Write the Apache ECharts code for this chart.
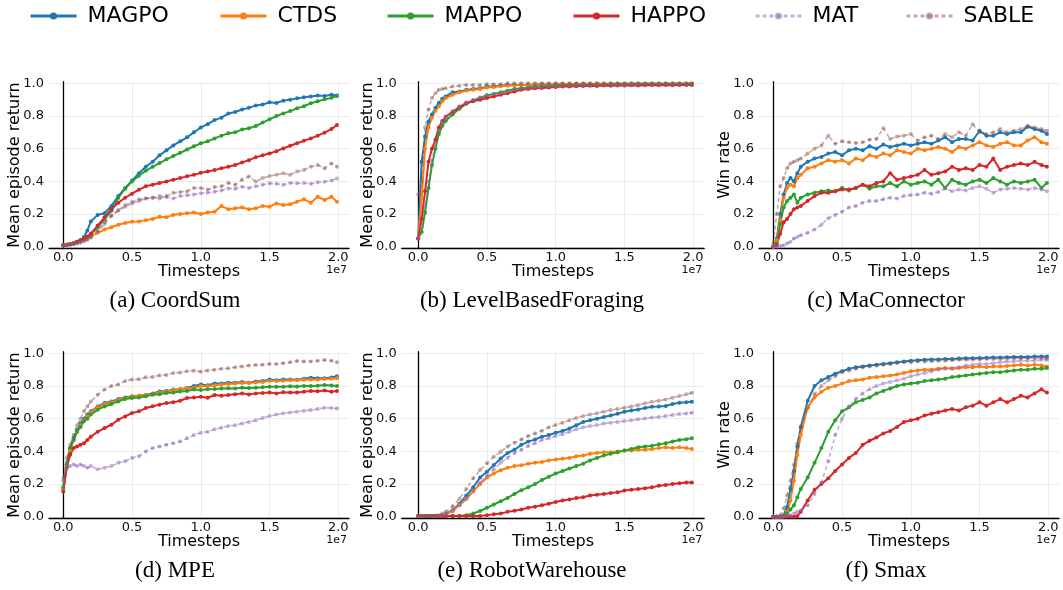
<!DOCTYPE html>
<html>
<head>
<meta charset="utf-8">
<script src="https://cdn.jsdelivr.net/npm/echarts@6/dist/echarts.min.js"></script>
<style>
html,body{margin:0;padding:0;background:#fff;}
#chart{width:1063px;height:590px;}
</style>
</head>
<body>
<div id="chart"></div>
<script>
// ---- shared x values (timesteps, in units of 1e7) ----
const timesteps = [0,0.025,0.05,0.075,0.1,0.125,0.15,0.175,0.2,
  0.25,0.3,0.35,0.4,0.45,0.5,0.55,0.6,0.65,0.7,
  0.75,0.8,0.85,0.9,0.95,1.0,1.05,1.1,1.15,1.2,
  1.25,1.3,1.35,1.4,1.45,1.5,1.55,1.6,1.65,1.7,
  1.75,1.8,1.85,1.9,1.95,1.99];
const xTicks = [0, 0.5, 1.0, 1.5, 2.0];
const yTicks = [0, 0.2, 0.4, 0.6, 0.8, 1.0];
const methods = ['MAGPO','CTDS','MAPPO','HAPPO','MAT','SABLE'];
const panelTitles = ['(a) CoordSum','(b) LevelBasedForaging','(c) MaConnector','(d) MPE','(e) RobotWarehouse','(f) Smax'];
const panelYLabels = ['Mean episode return','Mean episode return','Win rate','Mean episode return','Mean episode return','Win rate'];

// ---- (a) CoordSum ----
const coordsum_MAGPO = [0.01,0.012,0.015,0.02,0.03,0.04,0.06,0.1,0.155, 0.195,0.205,0.25,0.31,0.36,0.405,0.45,0.49,0.52,0.56, 0.59,0.62,0.645,0.67,0.70,0.73,0.75,0.775,0.79,0.815, 0.825,0.84,0.85,0.865,0.87,0.884,0.88,0.894,0.9,0.908, 0.915,0.92,0.925,0.922,0.93, 0.925];
const coordsum_CTDS = [0.01,0.012,0.015,0.02,0.027,0.035,0.045,0.055,0.065, 0.085,0.105,0.12,0.135,0.145,0.153,0.155,0.163,0.17,0.184, 0.18,0.195,0.20,0.205,0.21,0.20,0.21,0.214,0.25,0.229, 0.235,0.24,0.23,0.235,0.25,0.245,0.265,0.255,0.26,0.276, 0.29,0.27,0.306,0.286,0.306, 0.276];
const coordsum_MAPPO = [0.01,0.013,0.017,0.022,0.03,0.038,0.048,0.06,0.075, 0.12,0.17,0.22,0.3,0.355,0.40,0.435,0.465,0.49,0.512, 0.535,0.555,0.575,0.595,0.615,0.633,0.645,0.663,0.68,0.694, 0.70,0.718,0.725,0.739,0.76,0.78,0.80,0.816,0.83,0.847, 0.86,0.878,0.89,0.902,0.912, 0.922];
const coordsum_HAPPO = [0.01,0.012,0.016,0.02,0.03,0.04,0.05,0.063,0.08, 0.13,0.18,0.23,0.27,0.30,0.325,0.349,0.37,0.38,0.39, 0.40,0.41,0.42,0.432,0.44,0.453,0.46,0.469,0.48,0.49, 0.50,0.516,0.53,0.547,0.56,0.571,0.585,0.602,0.618,0.633, 0.648,0.663,0.68,0.698,0.72, 0.745];
const coordsum_MAT = [0.01,0.011,0.013,0.016,0.02,0.025,0.032,0.042,0.055, 0.09,0.14,0.19,0.225,0.255,0.275,0.29,0.296,0.30,0.31, 0.305,0.296,0.31,0.315,0.32,0.327,0.33,0.337,0.345,0.357, 0.355,0.367,0.36,0.37,0.38,0.388,0.385,0.38,0.39,0.388, 0.39,0.385,0.395,0.398,0.405, 0.418];
const coordsum_SABLE = [0.01,0.011,0.014,0.018,0.023,0.03,0.038,0.048,0.06, 0.1,0.15,0.19,0.22,0.245,0.265,0.28,0.295,0.30,0.295, 0.31,0.33,0.335,0.34,0.36,0.36,0.35,0.365,0.37,0.39, 0.38,0.41,0.43,0.40,0.42,0.433,0.44,0.45,0.44,0.46, 0.47,0.49,0.50,0.48,0.51, 0.49];

// ---- (b) LevelBasedForaging ----
const lbf_MAGPO = [0.05,0.52,0.675,0.767,0.81,0.85,0.88,0.905,0.92, 0.945,0.95,0.96,0.965,0.97,0.98,0.98,0.985,0.99,0.99, 0.99,0.992,0.993,0.995,0.994,0.995,0.996,0.995,0.996,0.997, 0.996,0.997,0.996,0.997,0.998,0.997,0.997,0.998,0.997,0.998, 0.997,0.998,0.997,0.998,0.997, 0.998];
const lbf_CTDS = [0.05,0.3,0.6,0.73,0.79,0.83,0.86,0.89,0.91, 0.93,0.945,0.955,0.96,0.965,0.975,0.978,0.982,0.985,0.988, 0.99,0.99,0.992,0.993,0.994,0.995,0.995,0.996,0.995,0.996, 0.996,0.997,0.996,0.997,0.997,0.996,0.997,0.998,0.997,0.997, 0.998,0.997,0.998,0.997,0.998, 0.997];
const lbf_MAPPO = [0.05,0.09,0.21,0.36,0.5,0.6,0.69,0.74,0.77, 0.81,0.845,0.875,0.895,0.91,0.925,0.935,0.945,0.955,0.965, 0.97,0.975,0.98,0.982,0.985,0.988,0.988,0.99,0.99,0.99, 0.992,0.99,0.993,0.992,0.995,0.993,0.994,0.995,0.995,0.993, 0.995,0.996,0.995,0.996,0.995, 0.996];
const lbf_HAPPO = [0.05,0.17,0.34,0.52,0.6,0.655,0.73,0.77,0.795, 0.825,0.855,0.88,0.89,0.9,0.91,0.92,0.93,0.94,0.95, 0.96,0.965,0.97,0.972,0.975,0.978,0.98,0.98,0.982,0.983, 0.985,0.984,0.986,0.985,0.987,0.986,0.988,0.987,0.988,0.99, 0.988,0.99,0.989,0.99,0.99, 0.99];
const lbf_MAT = [0.05,0.12,0.25,0.4,0.53,0.63,0.71,0.76,0.79, 0.83,0.86,0.885,0.9,0.915,0.93,0.935,0.94,0.95,0.96, 0.965,0.97,0.975,0.978,0.98,0.982,0.985,0.985,0.986,0.988, 0.988,0.99,0.99,0.99,0.99,0.988,0.99,0.99,0.99,0.99, 0.99,0.99,0.99,0.99,0.99, 0.99];
const lbf_SABLE = [0.32,0.4,0.73,0.84,0.91,0.94,0.96,0.965,0.97, 0.98,0.985,0.99,0.99,0.99,0.995,0.995,0.995,1.0,1.0, 1.0,1.0,1.0,1.0,1.0,1.0,1.0,1.0,1.0,1.0, 1.0,1.0,1.0,1.0,1.0,1.0,1.0,1.0,1.0,1.0, 1.0,1.0,1.0,1.0,1.0, 1.0];

// ---- (c) MaConnector ----
const maconn_MAGPO = [0.0,0.05,0.2,0.32,0.39,0.42,0.40,0.45,0.49, 0.52,0.54,0.55,0.57,0.58,0.56,0.59,0.60,0.59,0.615, 0.6,0.625,0.61,0.62,0.63,0.62,0.63,0.64,0.63,0.65, 0.67,0.64,0.66,0.66,0.65,0.71,0.68,0.68,0.7,0.69, 0.7,0.70,0.735,0.72,0.71, 0.69];
const maconn_CTDS = [0.0,0.04,0.16,0.3,0.36,0.38,0.37,0.42,0.44, 0.48,0.49,0.51,0.53,0.52,0.53,0.51,0.54,0.53,0.56, 0.55,0.57,0.56,0.59,0.58,0.57,0.6,0.59,0.6,0.61, 0.6,0.58,0.61,0.6,0.62,0.64,0.62,0.61,0.63,0.64, 0.62,0.62,0.65,0.67,0.64, 0.63];
const maconn_MAPPO = [0.0,0.02,0.14,0.24,0.28,0.3,0.32,0.27,0.3, 0.32,0.33,0.34,0.345,0.34,0.36,0.345,0.36,0.38,0.355, 0.37,0.37,0.39,0.37,0.40,0.38,0.39,0.40,0.38,0.41, 0.36,0.41,0.39,0.38,0.40,0.41,0.39,0.42,0.40,0.38, 0.40,0.39,0.40,0.41,0.36, 0.39];
const maconn_HAPPO = [0.0,0.01,0.08,0.15,0.17,0.2,0.23,0.24,0.25, 0.28,0.31,0.33,0.33,0.34,0.35,0.35,0.36,0.38,0.37, 0.39,0.40,0.45,0.41,0.42,0.43,0.44,0.47,0.44,0.45, 0.46,0.49,0.47,0.48,0.47,0.50,0.49,0.54,0.47,0.49, 0.5,0.51,0.5,0.52,0.5, 0.49];
const maconn_MAT = [0.0,0.0,0.005,0.01,0.02,0.03,0.05,0.06,0.07, 0.085,0.105,0.135,0.175,0.195,0.215,0.24,0.25,0.27,0.28, 0.28,0.29,0.30,0.295,0.31,0.316,0.32,0.33,0.325,0.335, 0.357,0.34,0.35,0.345,0.36,0.37,0.355,0.33,0.35,0.355, 0.36,0.355,0.35,0.36,0.35, 0.34];
const maconn_SABLE = [0.02,0.2,0.37,0.42,0.48,0.51,0.52,0.53,0.54, 0.57,0.6,0.62,0.68,0.63,0.645,0.64,0.635,0.64,0.655, 0.66,0.725,0.66,0.675,0.68,0.69,0.65,0.67,0.68,0.66, 0.69,0.67,0.7,0.68,0.75,0.7,0.69,0.7,0.72,0.7, 0.71,0.72,0.74,0.73,0.72, 0.71];

// ---- (d) MPE ----
const mpe_MAGPO = [0.17,0.32,0.42,0.48,0.53,0.57,0.6,0.625,0.645, 0.675,0.696,0.706,0.72,0.73,0.737,0.74,0.745,0.755,0.767, 0.77,0.778,0.78,0.788,0.8,0.81,0.805,0.815,0.815,0.82, 0.82,0.825,0.82,0.827,0.83,0.84,0.835,0.84,0.84,0.838, 0.845,0.85,0.848,0.847,0.852, 0.86];
const mpe_CTDS = [0.17,0.31,0.41,0.47,0.52,0.56,0.59,0.615,0.64, 0.67,0.69,0.7,0.715,0.725,0.735,0.74,0.745,0.75,0.76, 0.765,0.775,0.78,0.785,0.79,0.80,0.80,0.805,0.81,0.812, 0.815,0.818,0.82,0.822,0.825,0.833,0.83,0.833,0.835,0.835, 0.838,0.84,0.84,0.843,0.845, 0.847];
const mpe_MAPPO = [0.18,0.32,0.42,0.47,0.52,0.55,0.585,0.6,0.625, 0.655,0.675,0.69,0.706,0.72,0.727,0.73,0.737,0.747,0.75, 0.757,0.76,0.767,0.77,0.778,0.776,0.78,0.782,0.785,0.786, 0.785,0.79,0.788,0.79,0.792,0.796,0.795,0.796,0.798,0.797, 0.8,0.8,0.802,0.806,0.803, 0.80];
const mpe_HAPPO = [0.155,0.3,0.38,0.42,0.43,0.44,0.45,0.47,0.49, 0.52,0.543,0.563,0.594,0.614,0.635,0.645,0.665,0.676,0.686, 0.696,0.70,0.71,0.727,0.73,0.735,0.728,0.745,0.74,0.745, 0.75,0.755,0.748,0.755,0.758,0.76,0.755,0.762,0.76,0.76, 0.765,0.77,0.768,0.772,0.765, 0.77];
const mpe_MAT = [0.22,0.3,0.31,0.32,0.31,0.32,0.31,0.30,0.31, 0.29,0.3,0.31,0.33,0.34,0.36,0.37,0.4,0.42,0.43, 0.44,0.45,0.46,0.48,0.5,0.514,0.52,0.535,0.545,0.555, 0.56,0.571,0.58,0.59,0.605,0.616,0.625,0.633,0.638,0.643, 0.648,0.653,0.66,0.667,0.665, 0.663];
const mpe_SABLE = [0.237,0.36,0.44,0.50,0.56,0.6,0.645,0.675,0.706, 0.747,0.778,0.8,0.81,0.83,0.84,0.842,0.853,0.855,0.865, 0.868,0.88,0.882,0.89,0.894,0.888,0.895,0.9,0.905,0.908, 0.915,0.92,0.925,0.929,0.93,0.935,0.935,0.94,0.945,0.953, 0.95,0.95,0.955,0.959,0.955, 0.945];

// ---- (e) RobotWarehouse ----
const rware_MAGPO = [0.005,0.005,0.005,0.005,0.005,0.005,0.005,0.008,0.016, 0.04,0.08,0.13,0.18,0.24,0.275,0.316,0.357,0.39,0.41, 0.44,0.46,0.473,0.49,0.5,0.514,0.525,0.54,0.56,0.58, 0.59,0.6,0.61,0.62,0.63,0.643,0.65,0.657,0.665,0.673, 0.675,0.678,0.69,0.698,0.70, 0.704];
const rware_CTDS = [0.005,0.005,0.005,0.005,0.005,0.005,0.005,0.008,0.015, 0.035,0.07,0.11,0.155,0.2,0.24,0.265,0.285,0.3,0.31, 0.315,0.325,0.33,0.335,0.345,0.35,0.355,0.36,0.37,0.375, 0.385,0.39,0.395,0.395,0.4,0.405,0.405,0.41,0.41,0.415, 0.42,0.425,0.42,0.425,0.42, 0.415];
const rware_MAPPO = [0.005,0.005,0.005,0.005,0.005,0.005,0.005,0.005,0.005, 0.005,0.005,0.01,0.02,0.035,0.055,0.075,0.095,0.115,0.14, 0.163,0.18,0.2,0.225,0.245,0.265,0.28,0.295,0.31,0.325, 0.345,0.36,0.375,0.385,0.395,0.405,0.415,0.425,0.43,0.435, 0.443,0.45,0.46,0.47,0.475, 0.48];
const rware_HAPPO = [0.005,0.005,0.005,0.005,0.005,0.005,0.005,0.005,0.005, 0.005,0.005,0.005,0.005,0.005,0.01,0.015,0.02,0.03,0.037, 0.045,0.055,0.062,0.07,0.08,0.09,0.1,0.105,0.115,0.12, 0.13,0.135,0.14,0.145,0.15,0.16,0.165,0.17,0.175,0.18, 0.19,0.195,0.2,0.205,0.21, 0.21];
const rware_MAT = [0.005,0.005,0.005,0.005,0.005,0.005,0.005,0.008,0.015, 0.035,0.07,0.11,0.16,0.21,0.25,0.29,0.33,0.36,0.39, 0.41,0.433,0.45,0.47,0.48,0.494,0.505,0.52,0.535,0.547, 0.555,0.561,0.57,0.576,0.58,0.586,0.59,0.596,0.602,0.608, 0.61,0.616,0.622,0.629,0.632, 0.637];
const rware_SABLE = [0.005,0.005,0.005,0.005,0.005,0.007,0.01,0.02,0.03, 0.065,0.11,0.17,0.235,0.286,0.327,0.367,0.398,0.43,0.453, 0.473,0.494,0.51,0.527,0.547,0.561,0.575,0.59,0.605,0.616, 0.625,0.633,0.643,0.653,0.66,0.667,0.675,0.684,0.694,0.704, 0.71,0.718,0.728,0.739,0.75, 0.759];

// ---- (f) Smax ----
const smax_MAGPO = [0,0,0,0.01,0.06,0.17,0.28,0.43,0.55, 0.71,0.80,0.835,0.855,0.875,0.89,0.905,0.915,0.92,0.925, 0.93,0.935,0.94,0.945,0.95,0.955,0.958,0.96,0.962,0.962, 0.965,0.965,0.968,0.97,0.97,0.972,0.973,0.975,0.975,0.976, 0.977,0.978,0.978,0.98,0.98, 0.98];
const smax_CTDS = [0,0,0,0.005,0.03,0.1,0.22,0.38,0.5, 0.67,0.73,0.765,0.79,0.8,0.815,0.83,0.835,0.84,0.85, 0.855,0.86,0.865,0.87,0.88,0.89,0.895,0.9,0.9,0.905, 0.91,0.905,0.91,0.915,0.915,0.92,0.915,0.92,0.92,0.922, 0.925,0.93,0.925,0.93,0.925, 0.92];
const smax_MAPPO = [0,0,0,0.005,0.02,0.045,0.07,0.12,0.17, 0.24,0.33,0.42,0.52,0.59,0.645,0.67,0.70,0.715,0.73, 0.755,0.77,0.785,0.80,0.81,0.815,0.82,0.83,0.835,0.84, 0.845,0.855,0.86,0.865,0.87,0.875,0.88,0.885,0.885,0.89, 0.895,0.9,0.9,0.905,0.905, 0.91];
const smax_HAPPO = [0,0,0,0,0,0,0,0.005,0.03, 0.1,0.165,0.2,0.235,0.28,0.32,0.36,0.39,0.44,0.465, 0.485,0.51,0.525,0.55,0.58,0.59,0.6,0.62,0.63,0.64, 0.65,0.66,0.65,0.67,0.68,0.70,0.68,0.70,0.72,0.70, 0.72,0.74,0.73,0.755,0.78, 0.76];
const smax_MAT = [0,0,0,0,0.005,0.01,0.02,0.03,0.04, 0.07,0.14,0.21,0.34,0.5,0.6,0.675,0.72,0.755,0.78, 0.8,0.815,0.825,0.835,0.845,0.86,0.87,0.88,0.89,0.9, 0.905,0.91,0.915,0.925,0.93,0.935,0.935,0.94,0.945,0.95, 0.95,0.955,0.955,0.955,0.96, 0.96];
const smax_SABLE = [0,0,0.01,0.05,0.13,0.22,0.32,0.45,0.55, 0.665,0.75,0.8,0.835,0.86,0.885,0.895,0.905,0.915,0.92, 0.925,0.93,0.935,0.94,0.945,0.945,0.95,0.95,0.952,0.955, 0.955,0.958,0.96,0.96,0.962,0.963,0.965,0.965,0.966,0.968, 0.968,0.97,0.97,0.97,0.972, 0.97];

const panelData = [
  [coordsum_MAGPO, coordsum_CTDS, coordsum_MAPPO, coordsum_HAPPO, coordsum_MAT, coordsum_SABLE],
  [lbf_MAGPO, lbf_CTDS, lbf_MAPPO, lbf_HAPPO, lbf_MAT, lbf_SABLE],
  [maconn_MAGPO, maconn_CTDS, maconn_MAPPO, maconn_HAPPO, maconn_MAT, maconn_SABLE],
  [mpe_MAGPO, mpe_CTDS, mpe_MAPPO, mpe_HAPPO, mpe_MAT, mpe_SABLE],
  [rware_MAGPO, rware_CTDS, rware_MAPPO, rware_HAPPO, rware_MAT, rware_SABLE],
  [smax_MAGPO, smax_CTDS, smax_MAPPO, smax_HAPPO, smax_MAT, smax_SABLE]
];

// ---- styling / layout ----
const colors = {
  MAGPO:'#1f77b4', CTDS:'#ff7f0e', MAPPO:'#2ca02c', HAPPO:'#d62728',
  MAT:'rgba(148,103,189,0.55)', SABLE:'rgba(140,86,75,0.5)'
};
const dashed = {MAT:true, SABLE:true};
const FONT = 'DejaVu Sans';
const colLeft = [49, 401.7, 759];
const colMin = [-0.104, -0.12, -0.104];
const colMax = [2.078, 2.08, 2.078];
const pxPerUnit = 137.5;
const rowTop = [81.7, 351.7];
const plotH = 166.7;
const captionX = [175, 532, 886];
const captionY = [301, 571];
const legendLeft = [24, 214, 381, 567, 749, 900];

const grids = [], xAxes = [], yAxes = [], series = [], graphics = [];
for (let p = 0; p < 6; p++) {
  const c = p % 3, r = Math.floor(p / 3);
  const w = (colMax[c] - colMin[c]) * pxPerUnit;
  grids.push({left: colLeft[c], top: rowTop[r], width: w, height: plotH, containLabel: false});
  xAxes.push({
    type: 'value', gridIndex: p, min: colMin[c], max: colMax[c],
    name: 'Timesteps', nameLocation: 'middle', nameGap: 15, nameMoveOverlap: false,
    nameTextStyle: {fontSize: 16, color: '#000', fontFamily: FONT},
    axisLine: {show: true, onZero: false, lineStyle: {color: '#000', width: 1.3}},
    axisTick: {show: false, customValues: xTicks},
    axisLabel: {customValues: xTicks, formatter: v => v.toFixed(1), fontSize: 13, color: '#111', fontFamily: FONT, margin: 3},
    splitLine: {show: true, lineStyle: {color: '#ebebeb', width: 1}}
  });
  yAxes.push({
    type: 'value', gridIndex: p, min: -0.01, max: 1.01,
    name: panelYLabels[p], nameLocation: 'middle', nameGap: 26, nameMoveOverlap: false,
    nameTextStyle: {fontSize: 16, color: '#000', fontFamily: FONT},
    axisLine: {show: true, lineStyle: {color: '#000', width: 1.3}},
    axisTick: {show: false, customValues: yTicks},
    axisLabel: {customValues: yTicks, formatter: v => v.toFixed(1), fontSize: 13, color: '#111', fontFamily: FONT, margin: 5},
    splitLine: {show: true, lineStyle: {color: '#ebebeb', width: 1}}
  });
  methods.forEach((m, k) => {
    const vals = panelData[p][k];
    series.push({
      type: 'line', name: m, xAxisIndex: p, yAxisIndex: p,
      data: timesteps.map((t, i) => [t, vals[i]]),
      symbol: 'circle', symbolSize: 4, showSymbol: true,
      lineStyle: {width: dashed[m] ? 1.6 : 2, type: dashed[m] ? [4, 3] : 'solid', color: colors[m]},
      itemStyle: {color: colors[m]},
      animation: false, silent: true, z: 2
    });
  });
  graphics.push({
    type: 'text', x: colLeft[c] + w - 2, y: rowTop[r] + plotH + 22,
    style: {text: '1e7', fontSize: 11, fill: '#111', fontFamily: FONT, align: 'right', verticalAlign: 'middle'}
  });
  graphics.push({
    type: 'text', x: captionX[c], y: captionY[r],
    style: {text: panelTitles[p], fontSize: 23, fill: '#000', fontFamily: 'Liberation Serif', align: 'center', verticalAlign: 'middle'}
  });
}

const legends = methods.map((m, k) => ({
  data: [m], left: legendLeft[k], top: 0, itemWidth: 46, itemHeight: 9,
  itemGap: 0, selectedMode: false,
  lineStyle: {width: 3},
  textStyle: {fontSize: 22, color: '#000', fontFamily: FONT, padding: [0, 0, 0, 6]}
}));

const chart = echarts.init(document.getElementById('chart'), null, {renderer: 'canvas'});
chart.setOption({
  animation: false,
  backgroundColor: '#fff',
  legend: legends,
  grid: grids, xAxis: xAxes, yAxis: yAxes, series: series,
  graphic: graphics
});
</script>
</body>
</html>
